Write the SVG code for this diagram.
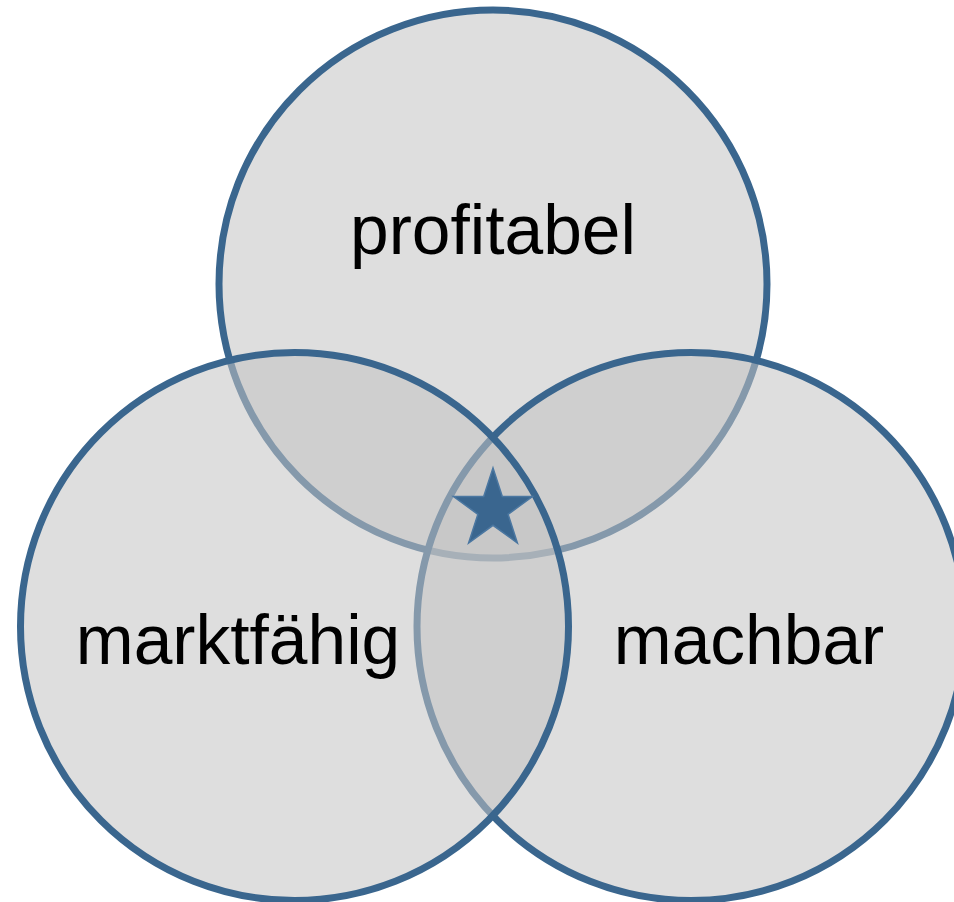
<svg xmlns="http://www.w3.org/2000/svg" width="954" height="902" viewBox="0 0 954 902">
<style>
.c{fill:#c2c2c2;fill-opacity:0.55;stroke:#3a668e;stroke-width:7}
.t{font-family:"Liberation Sans",Arial,sans-serif;font-size:69.5px;fill:#000;text-anchor:middle}
</style>
<rect width="954" height="902" fill="#ffffff"/>
<g id="profitabel">
<circle class="c" cx="493" cy="284" r="274"/>
</g>
<g id="machbar">
<circle class="c" cx="691" cy="626.5" r="274"/>
</g>
<g id="marktfaehig">
<circle class="c" cx="294.5" cy="626.5" r="274"/>
</g>
<g id="star">
<polygon points="493,468 502.3,496.6 532.5,496.6 508.1,514.3 517.4,543 493,525.3 468.6,543 477.9,514.3 453.5,496.6 483.7,496.6" fill="#3a668f" stroke="#4b77a1" stroke-width="1.5" stroke-linejoin="miter"/>
</g>
<g id="labels">
<text class="t" x="493" y="254">profitabel</text>
<text class="t" x="238" y="664">marktfähig</text>
<text class="t" x="749" y="664">machbar</text>
</g>
<g id="connectors"></g>
</svg>
